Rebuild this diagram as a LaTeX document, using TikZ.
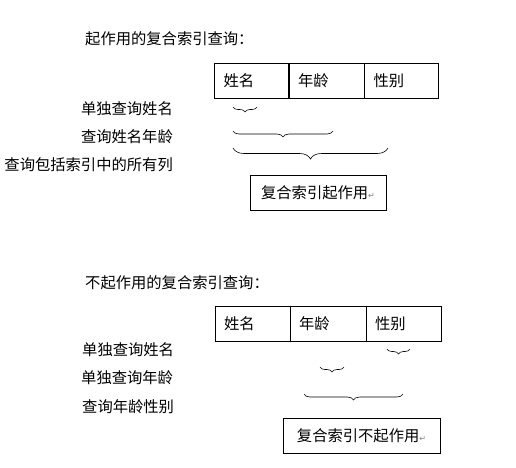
\documentclass[tikz,border=0pt]{standalone}
\usepackage{fontspec}
\setmainfont{Noto Sans CJK SC}
\newfontfamily\symfont{DejaVu Sans}
\usetikzlibrary{decorations.pathreplacing}
\newcommand{\retmark}{{\symfont\color{gray}\fontsize{8}{8}\selectfont ↵}}
\begin{document}
\begin{tikzpicture}[x=1pt,y=-1pt,
  txt/.style={font=\fontsize{15.3}{17}\selectfont, inner sep=0pt},
  cell/.style={draw, line width=0.9pt, minimum height=35pt, inner xsep=9pt, inner ysep=0pt,
               align=left, text width=#1, font=\fontsize{15.3}{17}\selectfont},
  res/.style={draw, line width=0.9pt, minimum height=35pt, minimum width=#1, inner sep=0pt,
              font=\fontsize{15.3}{17}\selectfont},
  br/.style={decorate, decoration={brace, mirror, amplitude=#1}, line width=0.6pt}
]
\useasboundingbox (0,0) rectangle (516,467);

% ---------- top section ----------
\node[txt, anchor=west] (t1) at (85,39) {起作用的复合索引查询：};
\node[cell=56pt] (a1) at (251.5,80.5) {姓名};
\node[cell=57pt] (a2) at (326.5,80.5) {年龄};
\node[cell=56pt] (a3) at (401.5,80.5) {性别};

\node[txt, anchor=east] (l1) at (173,109) {单独查询姓名};
\node[txt, anchor=east] (l2) at (173,137) {查询姓名年龄};
\node[txt, anchor=east] (l3) at (173,165) {查询包括索引中的所有列};

\coordinate (b1s) at (233,107); \coordinate (b1e) at (257,107);
\coordinate (b2s) at (233,131); \coordinate (b2e) at (333,131);
\coordinate (b3s) at (233,148); \coordinate (b3e) at (388,148);
\draw[br=5pt] (b1s) -- (b1e);
\draw[br=6pt] (b2s) -- (b2e);
\draw[br=11pt] (b3s) -- (b3e);

\node[res=136pt] (r1) at (318,193) {复合索引起作用\retmark};

% ---------- bottom section ----------
\node[txt, anchor=west] (t2) at (85,283) {不起作用的复合索引查询：};
\node[cell=57pt] (c1) at (252.5,324) {姓名};
\node[cell=58pt] (c2) at (328,324) {年龄};
\node[cell=57pt] (c3) at (403.5,324) {性别};

\node[txt, anchor=west] (m1) at (82,350) {单独查询姓名};
\node[txt, anchor=west] (m2) at (81,378) {单独查询年龄};
\node[txt, anchor=west] (m3) at (82,407) {查询年龄性别};

\coordinate (d1s) at (387,349); \coordinate (d1e) at (410,349);
\coordinate (d2s) at (320,367); \coordinate (d2e) at (344,367);
\coordinate (d3s) at (304,394); \coordinate (d3e) at (403,394);
\draw[br=5pt] (d1s) -- (d1e);
\draw[br=5pt] (d2s) -- (d2e);
\draw[br=6pt] (d3s) -- (d3e);

\node[res=157pt] (r2) at (361.5,436) {复合索引不起作用\retmark};
\end{tikzpicture}
\end{document}
